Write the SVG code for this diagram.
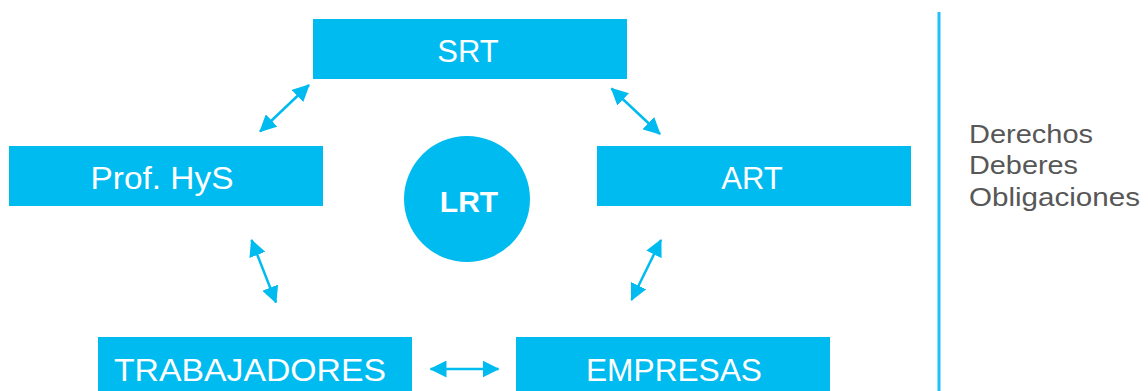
<svg xmlns="http://www.w3.org/2000/svg" width="1148" height="391" viewBox="0 0 1148 391">
<style>
.box{fill:#00BBF0}
.lbl{font-family:"Liberation Sans",Arial,sans-serif;font-size:31px;fill:#fff;text-anchor:middle}
.side{font-family:"Liberation Sans",Arial,sans-serif;font-size:26px;fill:#575757}
.con{stroke:#00BBF0;stroke-width:2.5;fill:none;marker-start:url(#ah);marker-end:url(#ah)}
</style>
<defs>
<marker id="ah" markerUnits="userSpaceOnUse" markerWidth="17" markerHeight="17" viewBox="0 0 17 17" refX="16" refY="8.5" orient="auto-start-reverse">
<path d="M0,0 L17,8.5 L0,17 z" fill="#00BBF0"/>
</marker>
</defs>
<rect width="1148" height="391" fill="#fff"/>
<g id="srt"><rect class="box" x="313" y="19" width="314" height="60"/><text class="lbl" x="468" y="62">SRT</text></g>
<g id="profhys"><rect class="box" x="9" y="146" width="314" height="60"/><text class="lbl" x="162" y="189" textLength="143" lengthAdjust="spacingAndGlyphs">Prof. HyS</text></g>
<g id="art"><rect class="box" x="597" y="146" width="314" height="60"/><text class="lbl" x="752" y="189">ART</text></g>
<g id="trabajadores"><rect class="box" x="98" y="337" width="314" height="60"/><text class="lbl" x="250" y="381" textLength="272" lengthAdjust="spacingAndGlyphs">TRABAJADORES</text></g>
<g id="empresas"><rect class="box" x="516" y="337" width="314" height="60"/><text class="lbl" x="674" y="381" textLength="176" lengthAdjust="spacingAndGlyphs">EMPRESAS</text></g>
<g id="lrt"><circle cx="467" cy="199" r="63" fill="#00BBF0"/><text x="469" y="212" font-family="Liberation Sans,Arial,sans-serif" font-weight="bold" font-size="30" fill="#fff" text-anchor="middle">LRT</text></g>
<g id="connectors">
<line class="con" x1="309" y1="85" x2="260" y2="131.5"/>
<line class="con" x1="611.5" y1="88.5" x2="660" y2="134"/>
<line class="con" x1="251.5" y1="240" x2="276" y2="302.5"/>
<line class="con" x1="661" y1="240" x2="631.5" y2="300"/>
<line class="con" x1="430.5" y1="369" x2="498.5" y2="369"/>
</g>
<g id="legend">
<line x1="939" y1="12" x2="939" y2="391" stroke="#1EC0F5" stroke-width="3"/>
<text class="side" x="969" y="143" textLength="124" lengthAdjust="spacingAndGlyphs">Derechos</text>
<text class="side" x="969" y="174" textLength="109" lengthAdjust="spacingAndGlyphs">Deberes</text>
<text class="side" x="969" y="206" textLength="171" lengthAdjust="spacingAndGlyphs">Obligaciones</text>
</g>
</svg>
